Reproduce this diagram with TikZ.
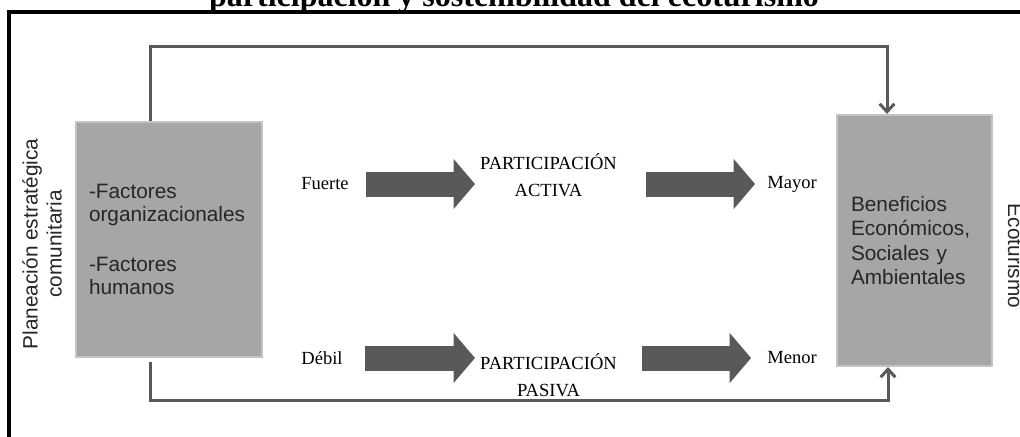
\documentclass[tikz,border=0pt]{standalone}
\usepackage{fontspec}
\setmainfont{Liberation Serif}
\setsansfont{Liberation Sans}
\usetikzlibrary{arrows.meta}

\definecolor{boxgray}{HTML}{A6A6A6}
\definecolor{edgegray}{HTML}{C4C4C4}
\definecolor{arrgray}{HTML}{595959}
\definecolor{inkgray}{HTML}{262626}

\tikzset{
  factorbox/.style={rectangle,draw=edgegray,line width=1.5pt,fill=boxgray,text=inkgray,
    align=left,font=\sffamily\fontsize{15.6}{17.25}\selectfont},
  sidelabel/.style={align=center,text=inkgray,font=\sffamily\fontsize{15.6}{18}\selectfont},
  lbl/.style={inner sep=0pt,align=center,font=\fontsize{13.9}{20}\selectfont},
  link/.style={draw=arrgray,line width=2.25pt,-{Straight Barb[length=6pt 0,width=11pt 0]}},
  blockarrow/.style={draw=arrgray,line width=18.75pt,-{Triangle[length=16pt,width=37.5pt,line width=0pt]}}
}

\begin{document}
\begin{tikzpicture}[x=0.75pt,y=-0.75pt]
  \useasboundingbox (0,0) rectangle (1020,436);
  \clip (0,0) rectangle (1020,436);

  % title, cut at the top
  \node[anchor=base,font=\bfseries\fontsize{24}{28}\selectfont] (title) at (514,6)
    {participación y sostenibilidad del ecoturismo};
  \draw[line width=3pt] (9,445) -- (9,12) -- (1030,12);

  % boxes
  \node[factorbox,minimum width=139.5pt,minimum height=176.25pt,text width=120pt] (factores) at (169,239.5)
    {-Factores\\organizacionales\\[20pt]-Factores\\humanos};
  \node[factorbox,minimum width=116.25pt,minimum height=188.25pt,text width=95.25pt,
    font=\sffamily\fontsize{15.6}{18.2}\selectfont] (beneficios) at (914.5,240.5)
    {Beneficios\\Económicos,\\Sociales y\\Ambientales};

  \node[sidelabel,rotate=90] (planeacion) at (42,244) {Planeación estratégica\\comunitaria};
  \node[sidelabel,rotate=-90,anchor=base] (ecoturismo) at (1008,256) {Ecoturismo};

  % middle labels
  \node[lbl] (fuerte) at (325,184) {Fuerte};
  \node[lbl] (activa) at (548.5,175.5) {PARTICIPACIÓN\\ACTIVA};
  \node[lbl] (mayor) at (792,184) {Mayor};
  \node[lbl] (debil) at (322,358) {Débil};
  \node[lbl] (pasiva) at (548.5,375) {PARTICIPACIÓN\\PASIVA};
  \node[lbl] (menor) at (792,358) {Menor};

  % block arrows
  \draw[blockarrow,shorten <=12.75pt,shorten >=3.75pt] (fuerte.east) -- (fuerte.east -| activa.west);
  \draw[blockarrow,shorten <=21.75pt,shorten >=9pt] (fuerte.east -| activa.east) -- (fuerte.east -| mayor.west);
  \draw[blockarrow,shorten <=16.5pt,shorten >=3.75pt] (debil.east) -- (debil.east -| pasiva.west);
  \draw[blockarrow,shorten <=18.75pt,shorten >=12pt] (debil.east -| pasiva.east) -- (debil.east -| menor.west);

  % feedback lines
  \coordinate (topleft) at (150,46);
  \coordinate (topright) at (887,46);
  \coordinate (botleft) at (150,400);
  \coordinate (botright) at (888,400);
  \draw[link] (factores.north -| topleft) -- (topleft) -- (topright) -- (beneficios.north -| topright);
  \draw[link,shorten <=3pt] (factores.south -| botleft) -- (botleft) -- (botright) -- (beneficios.south -| botright);
\end{tikzpicture}
\end{document}
